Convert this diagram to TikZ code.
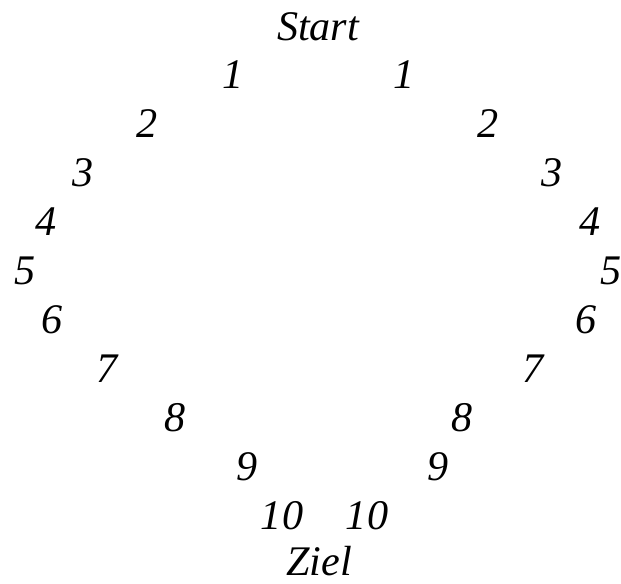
\documentclass[tikz,border=0pt]{standalone}
\usepackage{fontspec}
\setmainfont{Liberation Serif}
\usepackage{tikz}

\tikzset{
  stationlabel/.style={anchor=base, inner sep=0pt, font=\fontsize{24}{28}\selectfont\itshape}
}

\begin{document}
\begin{tikzpicture}[x=0.02cm, y=-0.02cm]
\useasboundingbox (0,0) rectangle (621,583);
\node[stationlabel] (start) at (318,40) {Start};
\foreach \n/\xl/\xr in {1/233/404, 2/147/488, 3/83/552, 4/46/590, 5/25/611,
                        6/52/586, 7/107/533, 8/175/462, 9/247/438, 10/282/367} {
  \node[stationlabel] (l\n) at (\xl,{40+48.9*\n}) {\n};
  \node[stationlabel] (r\n) at (\xr,{40+48.9*\n}) {\n};
}
\node[stationlabel] (ziel) at (319,575) {Ziel};
\end{tikzpicture}
\end{document}
